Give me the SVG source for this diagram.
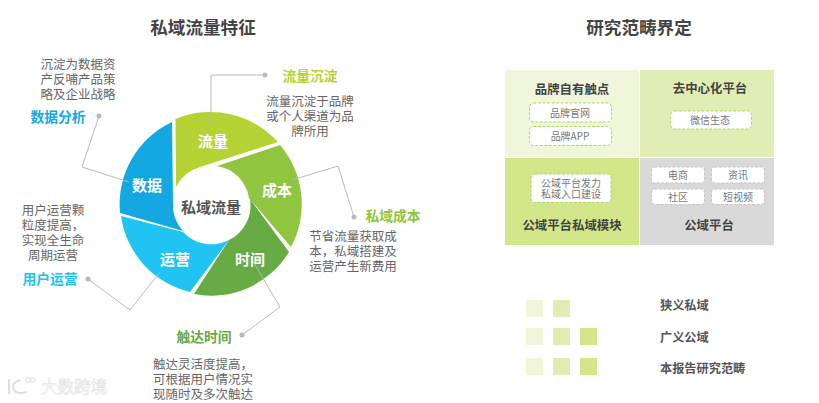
<svg xmlns="http://www.w3.org/2000/svg" width="819" height="403" viewBox="0 0 819 403">
<style>
text{font-family:"Noto Sans CJK SC","Liberation Sans",sans-serif;text-anchor:middle;dominant-baseline:central;transform:translateY(-1px)}
.title{font-size:17.6px;font-weight:700;fill:#444}
.body{font-size:12.5px;fill:#666}
.lab{font-size:13.8px;font-weight:700}
.seg{font-size:15px;font-weight:700;fill:#fff}
.head{font-size:12.4px;font-weight:700;fill:#444}
.chip{font-size:10px;fill:#777}
.leg{font-size:12.2px;font-weight:700;fill:#555;text-anchor:start}
.cb{fill:#fff;stroke:#b5d56a;stroke-width:1;stroke-dasharray:3 1.5}
.cg{fill:#fff;stroke:#c4c4c4;stroke-width:1;stroke-dasharray:3 1.5}
.ln{fill:none;stroke:#b9b9b9;stroke-width:1}
.dot{fill:#b9b9b9}
.wm{font-size:16.500px;fill:#fafafa;stroke:#dedede;stroke-width:.5;text-anchor:start}
</style>
<text class="title" x="203" y="27">私域流量特征</text>
<text class="title" x="639" y="27">研究范畴界定</text>
<g id="ring">
<g id="node-flow"><path d="M175.500 119A91 91 0 0 1 278 142L200 167A38.500 38.500 0 0 0 176 187Z" fill="#b5d334"/></g>
<g id="node-cost"><path d="M280 145A91 91 0 0 1 291 247L249 198A38.500 38.500 0 0 0 217 166Z" fill="#8fc53f"/></g>
<g id="node-time"><path d="M289 252A91 91 0 0 1 194 294L229 240A38.500 38.500 0 0 0 250 199Z" fill="#66ab43"/></g>
<g id="node-ops"><path d="M190 292A91 91 0 0 1 121 216L183 232A38.500 38.500 0 0 0 229 240Z" fill="#20c4f2"/></g>
<g id="node-data"><path d="M172 122A91 91 0 0 0 120 213L183 231A38.500 38.500 0 0 1 173 203Z" fill="#14a8e2"/></g>
</g>
<g id="connectors">
<path class="ln" d="M265 75H211V125"/><circle class="dot" cx="265" cy="75" r="2.500"/>
<path class="ln" d="M292 180L338 166L354 217"/><circle class="dot" cx="354" cy="217" r="2.500"/>
<path class="ln" d="M251 258L280 307L242 335"/><circle class="dot" cx="242" cy="335" r="2.500"/>
<path class="ln" d="M160 272L130 310L88 279"/><circle class="dot" cx="88" cy="279" r="2.500"/>
<path class="ln" d="M129 182L82 167L99 116"/><circle class="dot" cx="99" cy="116" r="2.500"/>
</g>
<g id="ring-labels">
<text class="seg" x="213" y="141">流量</text>
<text class="seg" x="277" y="190">成本</text>
<text class="seg" x="250" y="259">时间</text>
<text class="seg" x="175" y="259">运营</text>
<text class="seg" x="147" y="185">数据</text>
<text x="211" y="207" style="font-size:15px;font-weight:700;fill:#555">私域流量</text>
</g>
<g id="callout-flow">
<text class="lab" x="310" y="76" fill="#b5d334">流量沉淀</text>
<text class="body" x="310" y="101">流量沉淀于品牌</text>
<text class="body" x="310" y="116">或个人渠道为品</text>
<text class="body" x="310" y="131">牌所用</text>
</g>
<g id="callout-cost">
<text class="lab" x="393" y="216" fill="#8fc53f">私域成本</text>
<text class="body" x="353" y="236">节省流量获取成</text>
<text class="body" x="353" y="251">本，私域搭建及</text>
<text class="body" x="353" y="266">运营产生新费用</text>
</g>
<g id="callout-time">
<text class="lab" x="204" y="337" fill="#66ab43">触达时间</text>
<text class="body" x="203" y="364">触达灵活度提高，</text>
<text class="body" x="203" y="379">可根据用户情况实</text>
<text class="body" x="203" y="394">现随时及多次触达</text>
</g>
<g id="callout-ops">
<text class="lab" x="50" y="279" fill="#20c4f2">用户运营</text>
<text class="body" x="53" y="210">用户运营颗</text>
<text class="body" x="53" y="225">粒度提高，</text>
<text class="body" x="53" y="240">实现全生命</text>
<text class="body" x="53" y="255">周期运营</text>
</g>
<g id="callout-data">
<text class="lab" x="58" y="117" fill="#14a8e2">数据分析</text>
<text class="body" x="78" y="64">沉淀为数据资</text>
<text class="body" x="78" y="79">产反哺产品策</text>
<text class="body" x="78" y="94">略及企业战略</text>
</g>
<g id="cell-brand">
<rect x="505" y="70" width="134" height="87" fill="#f0f6da"/>
<text class="head" x="572" y="90">品牌自有触点</text>
<rect class="cb" x="529.500" y="103" width="82" height="19" rx="4"/><text class="chip" x="570" y="113">品牌官网</text>
<rect class="cb" x="529.500" y="126.500" width="82" height="19" rx="4"/><text class="chip" x="570" y="136">品牌APP</text>
</g>
<g id="cell-decentral">
<rect x="640" y="70" width="134" height="87" fill="#e0eeb6"/>
<text class="head" x="710" y="89">去中心化平台</text>
<rect class="cb" x="670.500" y="111" width="81" height="18" rx="4"/><text class="chip" x="710" y="120.500">微信生态</text>
</g>
<g id="cell-module">
<rect x="505" y="158" width="134" height="87" fill="#d3e68a"/>
<text class="head" x="572" y="226">公域平台私域模块</text>
<rect class="cb" x="531" y="174" width="80" height="28.500" rx="4"/>
<text class="chip" x="571" y="183">公域平台发力</text>
<text class="chip" x="571" y="194">私域入口建设</text>
</g>
<g id="cell-public">
<rect x="640" y="158" width="134" height="87" fill="#d9d9d9"/>
<text class="head" x="709" y="226">公域平台</text>
<rect class="cg" x="651.500" y="167" width="53" height="16" rx="3"/><text class="chip" x="678" y="175.500">电商</text>
<rect class="cg" x="711.500" y="167" width="53" height="16" rx="3"/><text class="chip" x="738" y="175.500">资讯</text>
<rect class="cg" x="651.500" y="189" width="53" height="15.500" rx="3"/><text class="chip" x="678" y="197">社区</text>
<rect class="cg" x="711.500" y="189" width="53" height="15.500" rx="3"/><text class="chip" x="738" y="197">短视频</text>
</g>
<g id="legend">
<rect x="526" y="300" width="17" height="17" fill="#f0f6da"/><rect x="553" y="300" width="17" height="17" fill="#e0eeb6"/>
<text class="leg" x="660" y="305.500">狭义私域</text>
<rect x="526" y="328" width="17" height="17" fill="#f0f6da"/><rect x="553" y="328" width="17" height="17" fill="#e0eeb6"/><rect x="580" y="328" width="17" height="17" fill="#d3e68a"/>
<text class="leg" x="660" y="338">广义公域</text>
<rect x="526" y="358" width="17" height="17" fill="#f0f6da"/><rect x="553" y="358" width="17" height="17" fill="#e0eeb6"/><rect x="580" y="358" width="17" height="17" fill="#d3e68a"/>
<text class="leg" x="660" y="369">本报告研究范畴</text>
</g>
<g id="watermark">
<path d="M9 379V394M20 380Q12 383 13 388Q15 395 27 392" fill="none" stroke="#dedede" stroke-width="2"/>
<circle cx="28" cy="380" r="2.500" fill="none" stroke="#dedede"/><circle cx="33" cy="380" r="2.500" fill="none" stroke="#dedede"/>
<text class="wm" x="41" y="387">大数跨境</text>
</g>
</svg>
